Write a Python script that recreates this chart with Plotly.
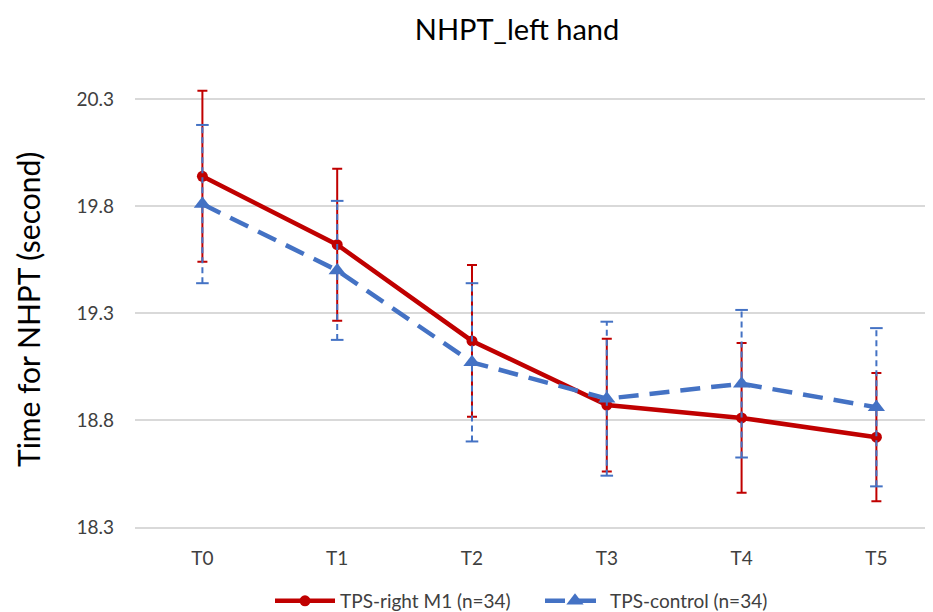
import plotly.graph_objects as go

categories = ["T0", "T1", "T2", "T3", "T4", "T5"]
red_name = "TPS-right M1 (n=34)"
red_mean = [19.94, 19.62, 19.17, 18.87, 18.81, 18.72]
red_err = [0.40, 0.355, 0.355, 0.31, 0.35, 0.30]
blue_name = "TPS-control (n=34)"
blue_mean = [19.81, 19.50, 19.07, 18.90, 18.97, 18.86]
blue_err = [0.37, 0.325, 0.37, 0.36, 0.345, 0.37]
y_ticks = [18.3, 18.8, 19.3, 19.8, 20.3]

RED = "#C00000"
BLUE = "#4472C4"
FONT = "Lato"

# page body has an 8px margin; figure is sized to fill the rest of the window
W, H = 925, 604
OFF = 8
PLOT_L, PLOT_T, PLOT_B = 135 - OFF, 85 - OFF, 527 - OFF
PLOT_H = PLOT_B - PLOT_T

fig = go.Figure()

fig.add_trace(go.Scatter(
    x=categories, y=red_mean, name=red_name, mode="lines+markers",
    line=dict(color=RED, width=4.5),
    marker=dict(symbol="circle", size=11, color=RED),
    error_y=dict(type="data", array=red_err, visible=True, color=RED,
                 thickness=2, width=5),
    cliponaxis=False,
))

fig.add_trace(go.Scatter(
    x=categories, y=blue_mean, name=blue_name, mode="lines+markers",
    line=dict(color=BLUE, width=4.5, dash="20px,11px"),
    marker=dict(symbol="triangle-up", size=15, color=BLUE),
    cliponaxis=False,
))

# dashed error bars for the control series
ex, ey = [], []
for c, m, e in zip(categories, blue_mean, blue_err):
    ex += [c, c, None]
    ey += [m - e, m + e, None]
fig.add_trace(go.Scatter(
    x=ex, y=ey, mode="lines+markers", showlegend=False, hoverinfo="skip",
    line=dict(color=BLUE, width=2, dash="6px,4px"),
    marker=dict(symbol="line-ew", size=9, line=dict(color=BLUE, width=2)),
    cliponaxis=False,
))

fig.update_layout(
    width=W, height=H,
    margin=dict(l=PLOT_L, r=0, t=PLOT_T, b=H - PLOT_B, autoexpand=False),
    paper_bgcolor="white", plot_bgcolor="white",
    font=dict(family=FONT, color="#404040"),
    title=dict(text="NHPT_left hand", x=(517 - OFF) / W, xanchor="center",
               xref="container",
               y=1 - (30 - OFF) / H, yanchor="middle",
               font=dict(family=FONT, size=29, color="black")),
    xaxis=dict(type="category", range=[-0.5, 5.42], showgrid=False,
               showline=True, linecolor="#D9D9D9", linewidth=1.5,
               ticks="", tickfont=dict(size=19, color="#404040"),
               ticklabelstandoff=13, zeroline=False, automargin=False),
    yaxis=dict(range=[18.3, 18.3 + PLOT_H / 213.85], tickvals=y_ticks,
               ticktext=[f"{v:.1f}" for v in y_ticks],
               showgrid=True, gridcolor="#D9D9D9", gridwidth=1.5,
               showline=False, zeroline=False, ticks="",
               tickfont=dict(size=19, color="#404040"),
               ticklabelstandoff=20, automargin=False),
    legend=dict(orientation="h", x=(540 - 135) / 798, xanchor="center",
                y=(527 - 601) / PLOT_H, yanchor="middle",
                font=dict(size=19, color="#404040"), itemwidth=60,
                entrywidth=195,
                bgcolor="rgba(0,0,0,0)"),
    showlegend=True,
)

fig.add_annotation(
    text="Time for NHPT (second)", textangle=-90,
    xref="paper", yref="paper", x=(28 - 135) / 798, y=(527 - 310) / PLOT_H,
    xanchor="center", yanchor="middle", showarrow=False,
    font=dict(family=FONT, size=30, color="black"),
)

fig.write_html("out.html")
